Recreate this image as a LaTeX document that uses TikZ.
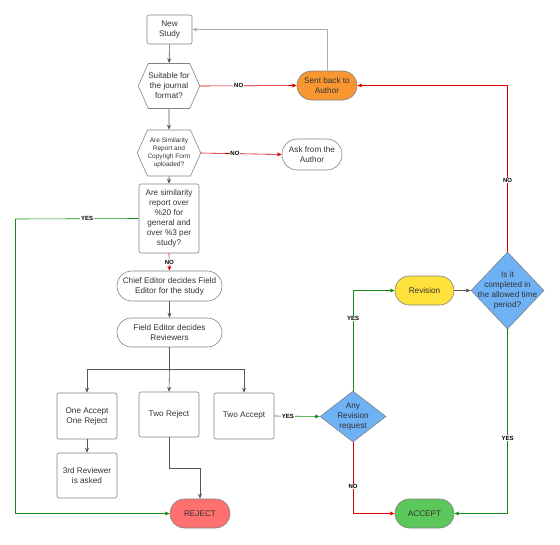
\documentclass[tikz,border=0pt]{standalone}
\usepackage{fontspec}
\setmainfont{Liberation Sans}
\usetikzlibrary{arrows.meta,shapes.geometric,shapes.symbols}
\definecolor{txtgray}{RGB}{51,51,51}
\definecolor{linegray}{RGB}{130,130,130}
\definecolor{arrowgray}{RGB}{85,85,85}
\definecolor{backgray}{RGB}{175,175,175}
\definecolor{nored}{RGB}{222,0,0}
\definecolor{yesgreen}{RGB}{22,138,22}
\definecolor{sentorange}{RGB}{248,150,50}
\definecolor{rejectred}{RGB}{255,113,113}
\definecolor{revyellow}{RGB}{255,225,60}
\definecolor{acceptgreen}{RGB}{92,200,92}
\definecolor{askblue}{RGB}{110,177,245}

\begin{document}
\begin{tikzpicture}[x=10pt,y=10pt]
				\tikzstyle{every node}+=[inner sep=0pt, text=txtgray, align=center, font=\fontsize{8.2}{10}\selectfont]
				\tikzstyle{stepbox}=[draw=linegray, line width=0.6pt, rounded corners=2pt, minimum width=60pt]
				\tikzstyle{term}=[draw=linegray, line width=0.6pt, rounded corners=14.5pt, minimum height=29pt]
				\tikzstyle{hexa}=[draw=linegray, line width=0.6pt, shape=signal, signal to=west and east, signal pointer angle=132, minimum width=60pt]
				\tikzstyle{decision}=[draw=linegray, line width=0.6pt, shape=diamond, fill=askblue, inner sep=-15pt]
				\tikzstyle{flow}=[draw=arrowgray, line width=0.6pt, -{Stealth[length=5pt,width=4pt]}]
				\tikzstyle{noflow}=[flow, draw=nored]
				\tikzstyle{yesflow}=[flow, draw=yesgreen]
				\tikzstyle{tag}=[fill=white, text=black, inner sep=0.8pt, font=\fontsize{6}{7}\selectfont\bfseries]
				\useasboundingbox (0,0) rectangle (56,-54.4);
				\node [stepbox, minimum width=45pt, minimum height=29pt] (new) at (16.95,-2.95) {New\\Study};
				\node [hexa, minimum height=45pt] (suit) at (16.9,-8.6) {Suitable for\\the journal\\format?};
				\node [term, fill=sentorange, minimum width=60pt] (sent) at (32.7,-8.55) {Sent back to\\Author};
				\node [hexa, minimum height=46pt, font=\fontsize{6.5}{8}\selectfont] (upl) at (16.9,-15.3) {Are Similarity\\Report and\\Copyrigh Form\\uploaded?};
				\node [term, minimum width=60pt, minimum height=31pt, rounded corners=15.5pt] (ask) at (31.2,-15.45) {Ask from the\\Author};
				\node [stepbox, minimum height=69pt] (sim) at (16.9,-21.85) {Are similarity\\report over\\\%20 for\\general and\\over \%3 per\\study?};
				\node [term, minimum width=105pt, minimum height=30pt, rounded corners=15pt] (chief) at (16.95,-28.6) {Chief Editor decides Field\\Editor for the study};
				\node [term, minimum width=105pt] (field) at (16.95,-33.25) {Field Editor decides\\Reviewers};
				\node [stepbox, minimum height=46pt] (oneacc) at (8.7,-41.6) {One Accept\\One Reject};
				\node [stepbox, minimum height=45pt] (tworej) at (16.9,-41.45) {Two Reject};
				\node [stepbox, minimum height=46pt] (twoacc) at (24.4,-41.6) {Two Accept};
				\node [stepbox, minimum height=45pt] (third) at (8.7,-47.55) {3rd Reviewer\\is asked};
				\node [term, fill=rejectred, minimum width=60pt] (reject) at (20.0,-51.35) {REJECT};
				\node [decision, minimum width=66pt, minimum height=51pt] (anyrev) at (35.3,-41.65) {Any\\Revision\\request};
				\node [term, fill=revyellow, minimum width=59pt] (rev) at (42.45,-29.05) {Revision};
				\node [decision, minimum width=73pt, minimum height=77pt] (done) at (50.75,-29.05) {Is it\\completed in\\the allowed time\\period?};
				\node [term, fill=acceptgreen, minimum width=59pt] (accept) at (42.45,-51.35) {ACCEPT};
				\coordinate (yesturn) at (1.57,-21.9);
				\coordinate (split) at (16.95,-36.9);
				\draw [flow] (new) -- (suit);
				\draw [flow] (suit) -- (upl);
				\draw [flow] (upl) -- (sim);
				\draw [flow, draw=backgray] (sent.north) |- (new.east);
				\draw [noflow] (suit.east) -- node [tag, pos=0.4] {NO} (sent.west);
				\draw [noflow] (upl.east) -- node [tag, pos=0.42] {NO} (ask.west);
				\draw [noflow] (sim.south) -- node [tag] {NO} (chief.north);
				\draw [yesflow, -] (sim.west) -- node [tag, pos=0.42] {YES} (yesturn);
				\draw [yesflow] (yesturn) |- (reject.west);
				\draw [flow] (chief) -- (field);
				\draw [arrowgray, line width=0.6pt] (field.south) -- (split);
				\draw [flow] (split) -| (oneacc.north);
				\draw [flow] (split) -| (twoacc.north);
				\draw [flow] (split) -- (tworej.north);
				\draw [flow] (oneacc) -- (third);
				\draw [flow] (tworej.south) -- ++(0,-3.1) -| (reject.north);
				\draw [yesflow] (twoacc.east) -- node [tag, pos=0.3] {YES} (anyrev.west);
				\draw [yesflow] (anyrev.north) |- node [tag, pos=0.36] {YES} (rev.west);
				\draw [flow] (rev) -- (done);
				\draw [noflow] (done.north) |- node [tag, pos=0.214] {NO} (sent.east);
				\draw [yesflow] (done.south) |- node [tag, pos=0.296] {YES} (accept.east);
				\draw [noflow] (anyrev.south) |- node [tag, pos=0.31] {NO} (accept.west);
\end{tikzpicture}
\end{document}
